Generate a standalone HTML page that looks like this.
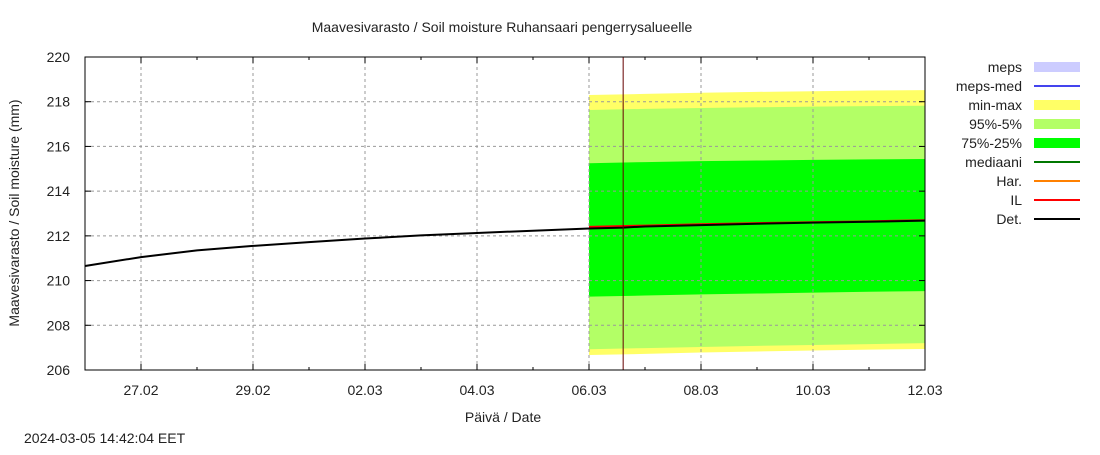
<!DOCTYPE html>
<html><head><meta charset="utf-8"><style>
body{margin:0;background:#fff;}
svg text{font-family:"Liberation Sans",sans-serif;font-size:14px;fill:#222;}
</style></head><body>
<svg id="c" width="1100" height="450"></svg>
<script>
const xTickLabels=["27.02","29.02","02.03","04.03","06.03","08.03","10.03","12.03"];
const xTickDays=[1,3,5,7,9,11,13,15];
const yTicks=[206,208,210,212,214,216,218,220];
const detDays=[0,1,2,3,4,5,6,7,8,9,9.61,10,11,12,13,14,15];
const detVals=[210.65,211.05,211.35,211.55,211.72,211.88,212.02,212.13,212.23,212.33,212.37,212.42,212.48,212.54,212.59,212.63,212.68];
const fcDays=[9.0,10,11,12,13,14,15];
const maxVals=[218.3,218.35,218.4,218.44,218.47,218.5,218.52];
const p95Vals=[217.63,217.68,217.72,217.75,217.78,217.8,217.82];
const p75Vals=[215.25,215.3,215.34,215.37,215.4,215.42,215.44];
const p25Vals=[209.28,209.33,209.38,209.42,209.46,209.5,209.53];
const p5Vals=[206.93,206.98,207.03,207.08,207.12,207.16,207.2];
const minVals=[206.67,206.72,206.78,206.83,206.87,206.91,206.94];
const ilVals=[212.4,212.46,212.52,212.57,212.61,212.65,212.7];
const nowDay=9.61;

const X0=85,X1=925,Y0=370,Y1=57,D0=0,D1=15,V0=206,V1=220;
const x=d=>X0+(d-D0)/(D1-D0)*(X1-X0);
const y=v=>Y0-(v-V0)/(V1-V0)*(Y0-Y1);
const svg=document.getElementById('c');
const NS='http://www.w3.org/2000/svg';
function mk(tag,a,parent){const e=document.createElementNS(NS,tag);for(const k in a)e.setAttribute(k,a[k]);(parent||svg).appendChild(e);return e;}
function txt(s,a){const e=mk('text',a);e.textContent=s;return e;}
function band(top,bot,color,name){
  let p=fcDays.map((d,i)=>x(d)+','+y(top[i])).join(' ')+' '+fcDays.slice().reverse().map((d,j)=>{const i=fcDays.length-1-j;return x(d)+','+y(bot[i]);}).join(' ');
  const e=mk('polygon',{points:p,fill:color});
  
  
}
band(maxVals,minVals,'#ffff66','band-min-max');
band(p95Vals,p5Vals,'#b3ff66','band-95-5');
band(p75Vals,p25Vals,'#00ff00','band-75-25');
// grid
yTicks.forEach(v=>{
  if(v>V0&&v<V1){const g=mk('line',{x1:X0,x2:X1,y1:y(v),y2:y(v),stroke:'#999','stroke-dasharray':'3,3','stroke-width':1});
  
  }
  const t=txt(String(v),{x:X0-15,y:y(v)+5,'text-anchor':'end'});
  
  
  mk('line',{x1:X0,x2:X0+6,y1:y(v),y2:y(v),stroke:'#000'});
  mk('line',{x1:X1,x2:X1-6,y1:y(v),y2:y(v),stroke:'#000'});
});
xTickDays.forEach((d,i)=>{
  if(d<D1){const g=mk('line',{x1:x(d),x2:x(d),y1:Y0,y2:Y1,stroke:'#999','stroke-dasharray':'3,3','stroke-width':1});
  
  }
  const t=txt(xTickLabels[i],{x:x(d),y:Y0+25,'text-anchor':'middle'});
  
  
  mk('line',{x1:x(d),x2:x(d),y1:Y0,y2:Y0-6,stroke:'#000'});
  mk('line',{x1:x(d),x2:x(d),y1:Y1,y2:Y1+6,stroke:'#000'});
});
for(let d=0;d<=15;d++){mk('line',{x1:x(d),x2:x(d),y1:Y0,y2:Y0-3,stroke:'#000'});mk('line',{x1:x(d),x2:x(d),y1:Y1,y2:Y1+3,stroke:'#000'});}
const il=mk('polyline',{points:fcDays.map((d,i)=>x(d)+','+y(ilVals[i])).join(' '),fill:'none',stroke:'#ff0000','stroke-width':2});


const det=mk('polyline',{points:detDays.map((d,i)=>x(d)+','+y(detVals[i])).join(' '),fill:'none',stroke:'#000','stroke-width':2});


const now=mk('line',{x1:x(nowDay),x2:x(nowDay),y1:Y1,y2:Y0,stroke:'#600','stroke-width':1});


const fr=mk('rect',{x:X0,y:Y1,width:X1-X0,height:Y0-Y1,fill:'none',stroke:'#000','stroke-width':1});


let t=txt('Maavesivarasto / Soil moisture   Ruhansaari pengerrysalueelle',{x:502,y:32,'text-anchor':'middle','xml:space':'preserve'});


t=txt('Päivä / Date',{x:503,y:422,'text-anchor':'middle'});


t=txt('Maavesivarasto / Soil moisture (mm)',{x:19,y:213,'text-anchor':'middle',transform:'rotate(-90 19 213)'});


t=txt('2024-03-05 14:42:04 EET',{x:24,y:443});


const legNames=['meps','meps-med','min-max','95%-5%','75%-25%','mediaani','Har.','IL','Det.'];
const legColors=['#ccccff','#4444ee','#ffff66','#b3ff66','#00ff00','#007700','#ff8000','#ff0000','#000000'];
const legBox=[true,false,true,true,true,false,false,false,false];
legNames.forEach((n,i)=>{
  const yy=67+i*19;
  const l=txt(n,{x:1022,y:yy+5,'text-anchor':'end'});
  
  
  if(legBox[i])mk('rect',{x:1034,y:yy-5,width:46,height:10,fill:legColors[i]});
  else mk('line',{x1:1034,x2:1080,y1:yy,y2:yy,stroke:legColors[i],'stroke-width':2});
});
</script>
</body></html>
